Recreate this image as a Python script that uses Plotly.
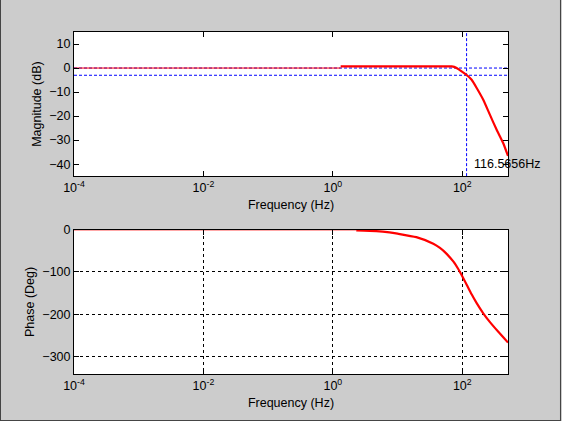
import numpy as np
import plotly.graph_objects as go
from plotly.subplots import make_subplots

# magnitude response
mag_freq = [1.32, 3, 8, 20, 45, 68.5, 75, 81.8, 97.7, 117, 139.6, 167, 211, 268, 340, 430, 509]
mag_db = [0.7, 0.7, 0.7, 0.7, 0.7, 0.7, 0.5, 0.0, -1.4, -2.9, -4.9, -8.3, -13.2, -19.5, -25.7, -31.3, -36.6]

# phase response
ph_freq = [2.3, 4.7, 7.5, 10, 19.5, 35.7, 45.2, 57.4, 72.6, 86.7, 100, 117, 139.6, 167, 211, 268, 360.6, 509]
ph_deg = [-1.5, -3, -6, -9, -17.4, -33, -43, -57, -75, -93, -110, -130, -153, -174, -198, -219, -242, -267.5]

f_min, f_max = 1e-4, 509
cutoff_hz = 116.5656
ref_db = [0, -3]
label = "116.5656Hz"

xticks = [1e-4, 1e-2, 1e0, 1e2]
xticktext = ["10<sup>-4</sup>", "10<sup>-2</sup>", "10<sup>0</sup>", "10<sup>2</sup>"]

fig = make_subplots(rows=2, cols=1, vertical_spacing=0.157)

red = "#ff0000"
blue = "#0000ff"

# dashed reference lines in the magnitude plot
for lvl in ref_db:
    fig.add_trace(go.Scatter(x=[f_min, f_max], y=[lvl, lvl], mode="lines",
                             line=dict(color=blue, width=1, dash="3px,2px")), row=1, col=1)
fig.add_trace(go.Scatter(x=[cutoff_hz, cutoff_hz], y=[-45, 15], mode="lines",
                         line=dict(color=blue, width=1, dash="3px,2px")), row=1, col=1)

# thin zero lead-in then measured curve
fig.add_trace(go.Scatter(x=[f_min, mag_freq[0]], y=[0, 0], mode="lines",
                         line=dict(color=red, width=1)), row=1, col=1)
fig.add_trace(go.Scatter(x=mag_freq, y=mag_db, mode="lines",
                         line=dict(color=red, width=2.2, shape="spline", smoothing=0.5)), row=1, col=1)

fig.add_trace(go.Scatter(x=[f_min, ph_freq[0]], y=[0, 0], mode="lines",
                         line=dict(color=red, width=1)), row=2, col=1)
fig.add_trace(go.Scatter(x=ph_freq, y=ph_deg, mode="lines",
                         line=dict(color=red, width=2.2, shape="spline", smoothing=0.5)), row=2, col=1)

font = dict(family="Liberation Sans, Arial", size=12.5, color="black")

axis_common = dict(showline=True, linecolor="black", linewidth=1, mirror="ticks",
                   ticks="inside", ticklen=5, tickcolor="black", zeroline=False,
                   tickfont=font)

for r in (1, 2):
    fig.update_xaxes(type="log", range=[np.log10(f_min), np.log10(f_max)],
                     tickvals=xticks, ticktext=xticktext,
                     title=dict(text="Frequency (Hz)", font=font, standoff=6),
                     showgrid=(r == 2), gridcolor="black", griddash="3px,3px", gridwidth=1,
                     row=r, col=1, **axis_common)

fig.update_yaxes(range=[-45, 15], tickvals=[10, 0, -10, -20, -30, -40], showgrid=False,
                 title=dict(text="Magnitude (dB)", font=font, standoff=4),
                 row=1, col=1, **axis_common)
fig.update_yaxes(range=[-342, 0], tickvals=[0, -100, -200, -300], showgrid=True,
                 gridcolor="black", griddash="3px,3px", gridwidth=1,
                 title=dict(text="Phase (Deg)", font=font, standoff=4),
                 row=2, col=1, **axis_common)

fig.add_annotation(x=np.log10(139.7), y=-40, xref="x", yref="y", text=label,
                   showarrow=False, xanchor="left", yanchor="middle", font=font)

# window frame (left, right, bottom)
frame = dict(color="#404040", width=1)
fig.add_shape(type="line", xref="paper", yref="paper", x0=-0.1694, x1=-0.1694, y0=-0.14, y1=1.1, line=frame)
fig.add_shape(type="line", xref="paper", yref="paper", x0=1.1209, x1=1.1209, y0=-0.14, y1=1.1, line=frame)
fig.add_shape(type="line", xref="paper", yref="paper", x0=-0.1694, x1=1.1209, y0=-0.1361, y1=-0.1361, line=frame)

fig.update_layout(width=562, height=421, margin=dict(l=74, r=54, t=32, b=47),
                  paper_bgcolor="#cccccc", plot_bgcolor="white",
                  showlegend=False, font=font)

fig.write_html("out.html", config={"displayModeBar": False},
               post_script="document.body.style.margin='0px';document.body.style.overflow='hidden';")
